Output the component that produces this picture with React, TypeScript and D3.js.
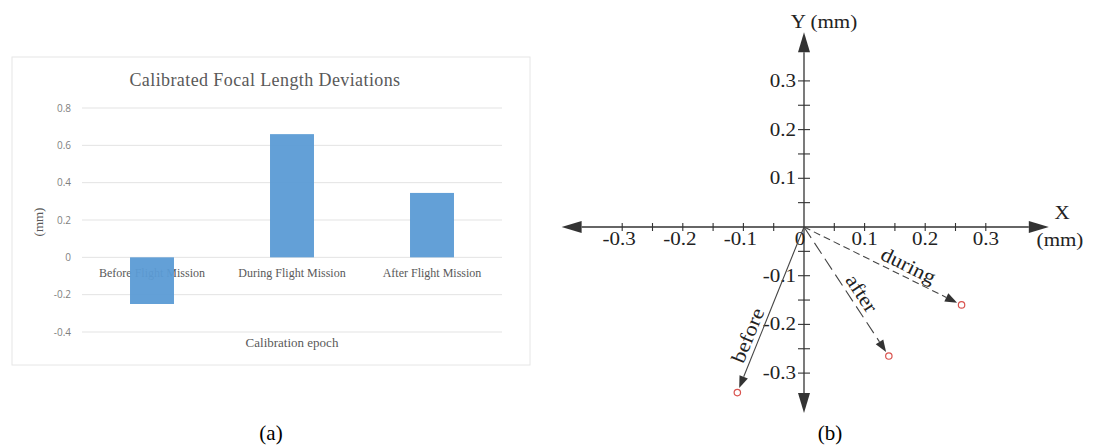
import React from "react";
import * as d3 from "d3";

// ---------- Panel (a) data ----------
const categories = ["Before Flight Mission", "During Flight Mission", "After Flight Mission"];
const deviations = [-0.25, 0.66, 0.345];
const yTicksA = [-0.4, -0.2, 0, 0.2, 0.4, 0.6, 0.8];

// ---------- Panel (b) data ----------
const epochs = ["before", "during", "after"];
const shiftX = [-0.11, 0.26, 0.14];
const shiftY = [-0.34, -0.16, -0.265];
const epochDash = ["none", "7,4", "13,6"];
const labelTicks = [-0.3, -0.2, -0.1, 0.1, 0.2, 0.3];
const minorTicks = d3.range(-6, 7).map((i) => i * 0.05).filter((v) => Math.abs(v) > 1e-9);

const SERIF = "'Liberation Serif', 'DejaVu Serif', serif";
const SANS = "'Open Sans', 'Liberation Sans', sans-serif";

const fmt = (t: number) => (t === 0 ? "0" : (t < 0 ? "-" : "") + Math.abs(t).toFixed(1));

function PanelA() {
  const y = d3.scaleLinear().domain([-0.4, 0.8]).range([332, 108]);
  const x = d3.scaleBand<string>().domain(categories).range([82, 502]).paddingInner(0.686).paddingOuter(0.343);
  return (
    <g>
      <rect x={12} y={57} width={518} height={308} fill="#fff" stroke="#e6e6e6" strokeWidth={1} />
      <text x={265} y={86} textAnchor="middle" fontFamily={SERIF} fontSize={18} fill="#595959" letterSpacing={0.4}>
        Calibrated Focal Length Deviations
      </text>
      {yTicksA.map((t) => (
        <g key={t}>
          <line x1={82} x2={502} y1={y(t)} y2={y(t)} stroke="#e3e3e3" strokeWidth={1} />
          <text x={71} y={y(t)} dy="0.35em" textAnchor="end" fontFamily={SANS} fontSize={10} fill="#7f7f7f">
            {fmt(t)}
          </text>
        </g>
      ))}
      {categories.map((c) => (
        <text key={c} x={(x(c) as number) + x.bandwidth() / 2} y={277} textAnchor="middle" fontFamily={SERIF} fontSize={12} fill="#595959">
          {c}
        </text>
      ))}
      {categories.map((c, i) => (
        <rect
          key={c}
          x={x(c) as number}
          width={x.bandwidth()}
          y={y(Math.max(0, deviations[i]))}
          height={Math.abs(y(deviations[i]) - y(0))}
          fill="#5b9bd5"
          fillOpacity={0.95}
        />
      ))}
      <text transform="translate(43,222) rotate(-90)" textAnchor="middle" fontFamily={SERIF} fontSize={13} fill="#595959">
        (mm)
      </text>
      <text x={292} y={347} textAnchor="middle" fontFamily={SERIF} fontSize={13} fill="#595959">
        Calibration epoch
      </text>
    </g>
  );
}

function StretchText(props: { x: number; y: number; anchor?: string; size?: number; children: React.ReactNode; sx?: number }) {
  const { x, y, anchor = "middle", size = 18, children, sx = 1.17 } = props;
  return (
    <text
      transform={`translate(${x},${y}) scale(${sx},1)`}
      textAnchor={anchor}
      dominantBaseline="central"
      fontFamily={SERIF}
      fontSize={size}
      fill="#222"
    >
      {children}
    </text>
  );
}

function PanelB() {
  const ox = 804;
  const oy = 227;
  const xs = d3.scaleLinear().domain([-0.4, 0.4]).range([ox - 242.4, ox + 242.4]);
  const ys = d3.scaleLinear().domain([-0.4, 0.4]).range([oy + 194.8, oy - 194.8]);
  const axisColor = "#333";
  const xL = xs(-0.4);
  const xR = xs(0.404);
  const yT = ys(0.4);
  const yB = ys(-0.382);
  const AH = 20;
  const AW = 6;
  return (
    <g>
      {/* axes */}
      <line x1={xL + AH} x2={xR - AH} y1={oy} y2={oy} stroke={axisColor} strokeWidth={1.3} />
      <line x1={ox} x2={ox} y1={yT + AH} y2={yB - AH} stroke={axisColor} strokeWidth={1.3} />
      <polygon points={`${xL},${oy} ${xL + AH},${oy - AW} ${xL + AH},${oy + AW}`} fill={axisColor} />
      <polygon points={`${xR},${oy} ${xR - AH},${oy - AW} ${xR - AH},${oy + AW}`} fill={axisColor} />
      <polygon points={`${ox},${yT} ${ox - AW},${yT + AH} ${ox + AW},${yT + AH}`} fill={axisColor} />
      <polygon points={`${ox},${yB} ${ox - AW},${yB - AH} ${ox + AW},${yB - AH}`} fill={axisColor} />
      {/* ticks */}
      {minorTicks.map((t) => (
        <g key={"t" + t}>
          <line x1={xs(t)} x2={xs(t)} y1={oy - 4} y2={oy + 4} stroke={axisColor} strokeWidth={1.1} />
          <line x1={ox - 6} x2={ox + 6} y1={ys(t)} y2={ys(t)} stroke={axisColor} strokeWidth={1.1} />
        </g>
      ))}
      {labelTicks.map((t) => (
        <g key={"l" + t}>
          <StretchText x={xs(t) - (t < 0 ? 3 : 0)} y={oy + 12}>{fmt(t)}</StretchText>
          <StretchText x={ox - 8} y={ys(t)} anchor="end">{fmt(t)}</StretchText>
        </g>
      ))}
      <StretchText x={ox - 4} y={oy + 12}>0</StretchText>
      <StretchText x={ox + 20} y={22}>Y (mm)</StretchText>
      <StretchText x={1062} y={213}>X</StretchText>
      <StretchText x={1060} y={240}>(mm)</StretchText>

      {/* vectors */}
      {epochs.map((e, i) => {
        const px = xs(shiftX[i]);
        const py = ys(shiftY[i]);
        const dx = px - ox;
        const dy = py - oy;
        const len = Math.hypot(dx, dy);
        const ux = dx / len;
        const uy = dy / len;
        const tipX = px - ux * 5;
        const tipY = py - uy * 5;
        const hl = 12;
        const hw = 4.5;
        const bx = tipX - ux * hl;
        const by = tipY - uy * hl;
        const nx = -uy;
        const ny = ux;
        let ang = (Math.atan2(dy, dx) * 180) / Math.PI;
        if (ang > 90) ang -= 180;
        const tFrac = [0.68, 0.63, 0.565][i];
        const mx = ox + dx * tFrac;
        const my = oy + dy * tFrac;
        const a = (ang * Math.PI) / 180;
        const upx = Math.sin(a);
        const upy = -Math.cos(a);
        const off = 5;
        return (
          <g key={e}>
            <line x1={ox} y1={oy} x2={bx} y2={by} stroke="#444" strokeWidth={1.1} strokeDasharray={epochDash[i]} />
            <polygon points={`${tipX},${tipY} ${bx + nx * hw},${by + ny * hw} ${bx - nx * hw},${by - ny * hw}`} fill="#333" />
            <circle cx={px} cy={py} r={3.2} fill="none" stroke="#d9534f" strokeWidth={1.2} />
            <text
              transform={`translate(${mx + upx * off},${my + upy * off}) rotate(${ang}) scale(1.12,1)`}
              textAnchor="middle"
              fontFamily={SERIF}
              fontSize={20}
              fill="#222"
            >
              {e}
            </text>
          </g>
        );
      })}
    </g>
  );
}

export default function App() {
  return (
    <svg width={1098} height={448} style={{ position: "absolute", left: 0, top: 0, background: "#fff" }}>
      <rect width={1098} height={448} fill="#fff" />
      <PanelA />
      <PanelB />
      <text x={271} y={440} textAnchor="middle" fontFamily={SERIF} fontSize={21} fill="#000">(a)</text>
      <text x={830} y={440} textAnchor="middle" fontFamily={SERIF} fontSize={21} fill="#000">(b)</text>
    </svg>
  );
}
